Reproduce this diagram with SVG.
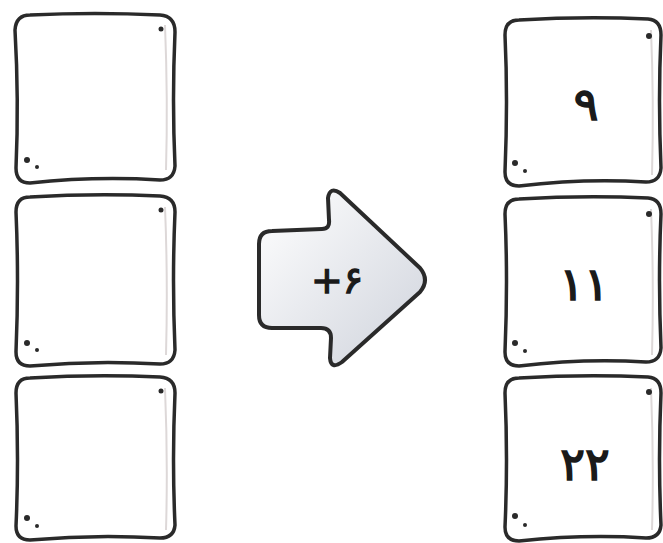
<svg xmlns="http://www.w3.org/2000/svg" width="663" height="543" viewBox="0 0 663 543">
<defs>
<style>
.box{fill:#ffffff;stroke:#2a2a2a;stroke-width:3.5;stroke-linejoin:round}
.inner{fill:none;stroke:#ddd8d8;stroke-width:2}
.dot{fill:#2a2a2a}
.num{font-family:"DejaVu Sans","Noto Sans",sans-serif;font-size:46px;font-weight:normal;fill:#1a1a1a;stroke:#1a1a1a;stroke-width:1.6;text-anchor:middle}
</style>
<linearGradient id="ag" x1="0" y1="0" x2="1" y2="1">
<stop offset="0" stop-color="#ffffff"/>
<stop offset="1" stop-color="#cfd3dc"/>
</linearGradient>
</defs>
<rect width="663" height="543" fill="#ffffff"/>
<g id="left1"><path class="box" d="M30 15 Q95 12 160 15 Q175 16 175 32 Q172 100 175 166 Q174 180 160 180 Q95 176 30 183 Q16 183 16 168 Q19 100 15 30 Q16 15 30 15Z"/><path class="inner" d="M165 25 Q168 100 166 170"/><circle class="dot" cx="27" cy="160" r="3"/><circle class="dot" cx="37" cy="167" r="2"/><circle class="dot" cx="161" cy="29" r="2.5"/></g>
<g id="left2"><path class="box" d="M30 197 Q95 193 160 196 Q175 197 175 212 Q172 280 175 350 Q174 364 160 364 Q95 360 30 366 Q16 366 16 352 Q19 280 16 212 Q16 197 30 197Z"/><path class="inner" d="M165 207 Q168 280 166 355"/><circle class="dot" cx="27" cy="343" r="3"/><circle class="dot" cx="37" cy="350" r="2"/><circle class="dot" cx="161" cy="210" r="2.5"/></g>
<g id="left3"><path class="box" d="M30 378 Q95 374 160 377 Q175 378 175 393 Q172 460 175 525 Q174 538 160 538 Q95 534 30 540 Q16 540 16 526 Q19 460 16 393 Q16 378 30 378Z"/><path class="inner" d="M165 388 Q168 460 166 530"/><circle class="dot" cx="27" cy="518" r="3"/><circle class="dot" cx="37" cy="526" r="2"/><circle class="dot" cx="161" cy="391" r="2.5"/></g>
<g id="right1"><path class="box" d="M519 20 Q585 16 648 19 Q661 20 661 35 Q658 100 661 168 Q660 182 646 182 Q585 178 519 186 Q505 186 505 172 Q508 100 505 35 Q505 20 519 20Z"/><path class="inner" d="M651 30 Q654 100 652 175"/><circle class="dot" cx="515" cy="163" r="3"/><circle class="dot" cx="525" cy="171" r="2"/><circle class="dot" cx="649" cy="36" r="3"/><text class="num" x="586" y="120">۹</text></g>
<g id="right2"><path class="box" d="M519 199 Q585 195 648 198 Q661 199 661 214 Q658 280 661 348 Q660 362 646 362 Q585 358 519 366 Q505 366 505 352 Q508 280 505 214 Q505 199 519 199Z"/><path class="inner" d="M651 209 Q654 280 652 355"/><circle class="dot" cx="515" cy="343" r="3"/><circle class="dot" cx="525" cy="351" r="2"/><circle class="dot" cx="649" cy="214" r="3"/><text class="num" x="584" y="300">۱۱</text></g>
<g id="right3"><path class="box" d="M519 378 Q585 374 648 377 Q661 378 661 393 Q658 460 661 525 Q660 538 646 538 Q585 534 519 541 Q505 541 505 527 Q508 460 505 393 Q505 378 519 378Z"/><path class="inner" d="M651 388 Q654 460 652 530"/><circle class="dot" cx="515" cy="516" r="3"/><circle class="dot" cx="525" cy="525" r="2"/><circle class="dot" cx="649" cy="392" r="3"/><text class="num" x="585" y="480">۲۲</text></g>
<g id="arrow"><path d="M272 231 L322 229 Q330 229 329 220 L328 198 Q330 186 340 193 L420 268 Q430 280 420 292 L342 362 Q331 370 330 358 L331 338 Q331 328 321 328 L272 328 Q259 328 259 315 L259 244 Q259 231 272 231Z" fill="url(#ag)" stroke="#2a2a2a" stroke-width="4" stroke-linejoin="round"/><text x="337" y="293" font-family="DejaVu Sans,Noto Sans,sans-serif" font-size="38" fill="#1a1a1a" stroke="#1a1a1a" stroke-width="1.3" text-anchor="middle" direction="ltr">+۶</text></g>
</svg>
